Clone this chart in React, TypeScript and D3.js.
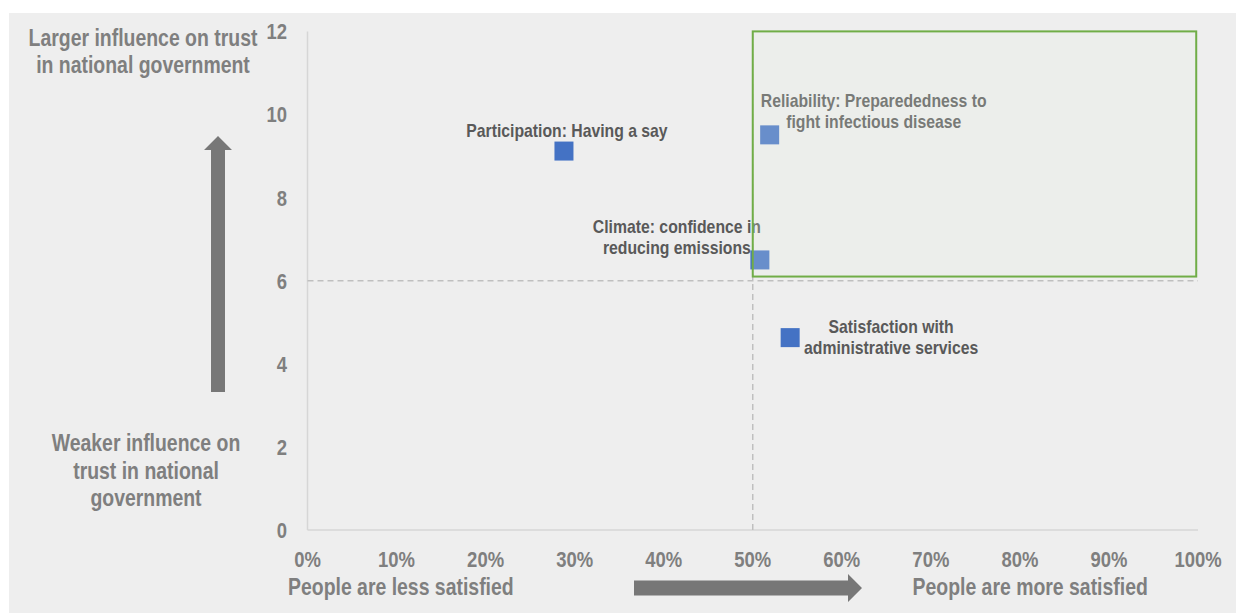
import React from "react";
import * as d3 from "d3";

// Drivers of trust: satisfaction share (x) vs. influence on trust (y)
const driverNames = [
  "Participation: Having a say",
  "Reliability: Preparededness to fight infectious disease",
  "Climate: confidence in reducing emissions",
  "Satisfaction with administrative services",
];
const driverLabelLines = [
  ["Participation: Having a say"],
  ["Reliability: Preparededness to", "fight infectious disease"],
  ["Climate: confidence in", "reducing emissions"],
  ["Satisfaction with", "administrative services"],
];
const satisfactionShare = [0.288, 0.519, 0.508, 0.542];
const trustInfluence = [9.12, 9.51, 6.5, 4.63];

const xTicks = [0, 0.1, 0.2, 0.3, 0.4, 0.5, 0.6, 0.7, 0.8, 0.9, 1.0];
const yTicks = [0, 2, 4, 6, 8, 10, 12];

// Quadrant split and the highlighted "high satisfaction / high influence" zone
const splitX = 0.5;
const splitY = 6;
const zoneX = [0.5, 0.998];
const zoneY = [6.1, 12];

// Label placement relative to each marker (px): centre offset and baselines
const labelLayout = [
  { dx: 3, dy: [-14] },
  { dx: 104, dy: [-27.5, -6.5] },
  { dx: -83, dy: [-26.5, -5.5] },
  { dx: 101, dy: [-5, 16] },
];

const W = 1236;
const H = 614;
const FONT = "'Liberation Sans Narrow', 'Arial Narrow', 'Liberation Sans', Arial, sans-serif";

// Bold text horizontally condensed around its anchor point
function NarrowText(props: {
  x: number;
  y: number;
  lines: string[];
  lineYs?: number[];
  anchor?: "start" | "middle" | "end";
  size: number;
  fill: string;
  squeeze: number;
  dy?: string;
}) {
  const { x, y, lines, lineYs, anchor = "start", size, fill, squeeze, dy } = props;
  return (
    <g transform={`translate(${x},${y}) scale(${squeeze},1)`}>
      <text textAnchor={anchor} fontSize={size} fontWeight="bold" fill={fill}>
        {lines.map((line, j) => (
          <tspan key={j} x={0} y={lineYs ? lineYs[j] : 0} dy={dy}>
            {line}
          </tspan>
        ))}
      </text>
    </g>
  );
}

export default function App() {
  const x = d3.scaleLinear().domain([0, 1]).range([307.5, 1198]);
  const y = d3.scaleLinear().domain([0, 12]).range([530, 31.4]);
  const pct = d3.format(".0%");
  const sq = 19;

  const tickColor = "#7f7f7f";
  const labelColor = "#595959";
  const arrowColor = "#777777";

  // Arrows
  const up = { cx: 218, shaftW: 14, headW: 28, tip: 136, headBase: 150, bottom: 392 };
  const upPts = [
    [up.cx - up.shaftW / 2, up.bottom],
    [up.cx - up.shaftW / 2, up.headBase],
    [up.cx - up.headW / 2, up.headBase],
    [up.cx, up.tip],
    [up.cx + up.headW / 2, up.headBase],
    [up.cx + up.shaftW / 2, up.headBase],
    [up.cx + up.shaftW / 2, up.bottom],
  ];
  const rt = { cy: 588, shaftH: 15, headH: 28, start: 634, headBase: 848, tip: 862 };
  const rtPts = [
    [rt.start, rt.cy - rt.shaftH / 2],
    [rt.headBase, rt.cy - rt.shaftH / 2],
    [rt.headBase, rt.cy - rt.headH / 2],
    [rt.tip, rt.cy],
    [rt.headBase, rt.cy + rt.headH / 2],
    [rt.headBase, rt.cy + rt.shaftH / 2],
    [rt.start, rt.cy + rt.shaftH / 2],
  ];
  const poly = (pts: number[][]) => pts.map((p) => p.join(",")).join(" ");

  return (
    <svg
      width={W}
      height={H}
      style={{ position: "absolute", left: 0, top: 0, fontFamily: FONT }}
    >
      <rect x={0} y={0} width={W} height={H} fill="#ffffff" />
      <rect x={9} y={13} width={W - 9} height={600} fill="#eeeeee" />

      {/* axes */}
      <line x1={x(0)} x2={x(0)} y1={y(12)} y2={y(0)} stroke="#d6d6d6" strokeWidth={1.5} />
      <line x1={x(0)} x2={x(1)} y1={y(0)} y2={y(0)} stroke="#d6d6d6" strokeWidth={1.5} />

      {/* quadrant split lines */}
      <line
        x1={x(0)}
        x2={x(1)}
        y1={y(splitY)}
        y2={y(splitY)}
        stroke="#bfbfbf"
        strokeWidth={1.5}
        strokeDasharray="6 4"
      />
      <line
        x1={x(splitX)}
        x2={x(splitX)}
        y1={y(0)}
        y2={y(12)}
        stroke="#bfbfbf"
        strokeWidth={1.5}
        strokeDasharray="6 4"
      />

      {/* markers */}
      {driverNames.map((name, i) => (
        <rect
          key={name}
          x={x(satisfactionShare[i]) - sq / 2}
          y={y(trustInfluence[i]) - sq / 2}
          width={sq}
          height={sq}
          fill="#4472c4"
        />
      ))}

      {/* marker labels */}
      {driverNames.map((name, i) => (
        <NarrowText
          key={name + "-label"}
          x={x(satisfactionShare[i]) + labelLayout[i].dx}
          y={y(trustInfluence[i])}
          lines={driverLabelLines[i]}
          lineYs={labelLayout[i].dy}
          anchor="middle"
          size={19}
          fill={labelColor}
          squeeze={0.83}
        />
      ))}

      {/* highlighted zone */}
      <rect
        x={x(zoneX[0])}
        y={y(zoneY[1])}
        width={x(zoneX[1]) - x(zoneX[0])}
        height={y(zoneY[0]) - y(zoneY[1])}
        fill="rgb(232,240,226)"
        fillOpacity={0.22}
        stroke="#70ad47"
        strokeWidth={2}
      />

      {/* tick labels */}
      {yTicks.map((t) => (
        <NarrowText
          key={"y" + t}
          x={287}
          y={y(t)}
          lines={[String(t)]}
          anchor="end"
          size={22}
          fill={tickColor}
          squeeze={0.84}
          dy="0.36em"
        />
      ))}
      {xTicks.map((t) => (
        <NarrowText
          key={"x" + t}
          x={x(t)}
          y={566.5}
          lines={[pct(t)]}
          anchor="middle"
          size={22}
          fill={tickColor}
          squeeze={0.84}
        />
      ))}

      {/* direction arrows */}
      <polygon points={poly(upPts)} fill={arrowColor} />
      <polygon points={poly(rtPts)} fill={arrowColor} />

      {/* axis captions */}
      <NarrowText x={288} y={595} lines={["People are less satisfied"]} size={23} fill={tickColor} squeeze={0.845} />
      <NarrowText x={912.5} y={595} lines={["People are more satisfied"]} size={23} fill={tickColor} squeeze={0.845} />
      <NarrowText
        x={143}
        y={0}
        lines={["Larger influence on trust", "in national government"]}
        lineYs={[46.5, 73]}
        anchor="middle"
        size={23}
        fill={tickColor}
        squeeze={0.845}
      />
      <NarrowText
        x={146}
        y={0}
        lines={["Weaker influence on", "trust in national", "government"]}
        lineYs={[451.5, 479, 506.5]}
        anchor="middle"
        size={23}
        fill={tickColor}
        squeeze={0.845}
      />
    </svg>
  );
}
